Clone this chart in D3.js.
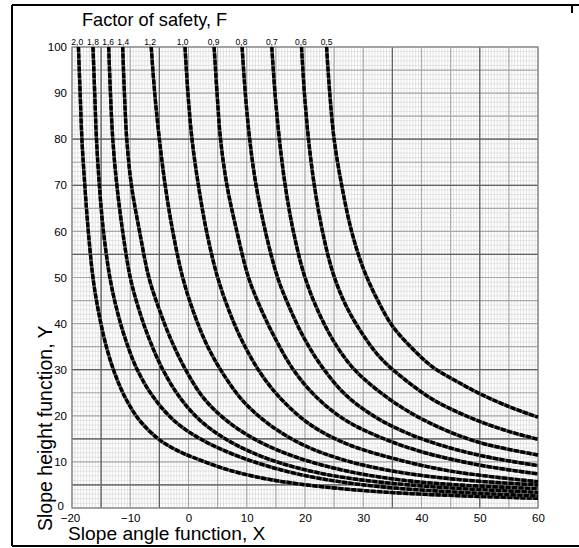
<!DOCTYPE html>
<html><head><meta charset="utf-8">
<script src="https://cdn.jsdelivr.net/npm/d3@7/dist/d3.min.js"></script>
<style>body{margin:0;background:#fff}svg{display:block}</style>
</head><body>
<svg id="c" width="579" height="548"></svg>
<script>
const xTicks=[-20,-10,0,10,20,30,40,50,60];
const yTicks=[0,10,20,30,40,50,60,70,80,90,100];
const fLabels=["2,0","1,8","1,6","1,4","1,2","1,0","0,9","0,8","0,7","0,6","0,5"];
const fLabelX=[-19.1,-16.4,-13.8,-11.2,-6.6,-1.0,4.3,9.1,14.3,19.3,23.7];
const c05=[[23.7,100],[24.25,90],[25,80],[26.3,70],[28,60],[30,52],[32.5,45],[35,39.5],[38.5,34.5],[42,30.5],[46,27.5],[50,24.8],[55,22],[60,19.7]];
const c06=[[19.4,100],[19.9,90],[20.6,80],[21.6,70],[23,60],[24.8,51],[27,44],[30,37.5],[33,32.5],[37,28],[42,23.5],[48,19.8],[54,17],[60,14.9]];
const c07=[[14.3,100],[14.85,90],[15.6,80],[16.6,70],[18,60],[20,50],[22.5,42],[25.5,35],[28.5,30],[32,26],[37,21.5],[43,17.5],[50,14.2],[60,11.5]];
const c08=[[9.2,100],[9.75,90],[10.5,80],[11.6,70],[13.2,60],[15.3,50],[17.5,43],[20,36.5],[23,30.5],[27,24.5],[32,19.8],[38,16],[45,13],[52,10.9],[60,9.2]];
const c09=[[4.4,100],[4.9,90],[5.5,80],[6.6,70],[8.3,60],[10.3,50],[12.5,43],[15,36.5],[18,30],[22,24],[27,19],[33,15.3],[40,12.2],[50,9.3],[60,7.4]];
const c10=[[-0.6,100],[-0.1,90],[0.6,80],[1.7,70],[3.1,60],[5,50],[7.2,42],[9.5,35.5],[12.5,29],[16,23.5],[21,18],[27,14],[35,10.8],[45,8],[60,5.7]];
const c12=[[-6.4,100],[-5.8,90],[-5,80],[-4,70],[-2.7,60],[-1,50],[1,42],[3.3,35],[6,29],[9.5,23],[14,18],[20,13.5],[27,10.3],[36,7.8],[47,6.1],[60,5.0]];
const c14=[[-11.3,100],[-11,90],[-10.6,80],[-9.8,70],[-8.4,60],[-6.8,50],[-5,43],[-3,36.5],[-0.5,30],[2.5,24],[6.5,19],[12,14.5],[19,10.8],[28,7.8],[40,5.6],[60,4.2]];
const c16=[[-13.7,100],[-13.4,90],[-13,80],[-12.3,70],[-11.3,60],[-10,50],[-8.5,43],[-6.7,36.5],[-4.4,30],[-1.5,24],[2,19],[7,14.5],[14,10.5],[24,7.2],[38,5],[60,3.4]];
const c18=[[-16.4,100],[-16.1,90],[-15.8,80],[-15.3,70],[-14.6,60],[-13.5,50],[-12.3,43],[-10.8,36.5],[-8.8,30],[-6,24],[-2.5,19],[2,15],[9,11],[19,7.3],[33,4.6],[60,2.6]];
const c20=[[-18.9,100],[-18.6,90],[-18.3,80],[-17.8,70],[-17.2,60],[-16.3,49],[-15.2,41],[-14,34.5],[-12.6,29],[-10.8,23.8],[-8.4,19],[-5,14.8],[-1.5,12.2],[2,10.4],[7,8.2],[13,6.4],[19,5.2],[27,4.1],[37,3.2],[48,2.6],[60,2.1]];
const curves=[c20,c18,c16,c14,c12,c10,c09,c08,c07,c06,c05];

const svg=d3.select("#c");
const L=72,R=538,T=47,B=508;
const x=d3.scaleLinear().domain([-20,60]).range([L,R]);
const y=d3.scaleLinear().domain([0,100]).range([B,T]);
const FF="Arial, 'Liberation Sans', sans-serif";

const fr=svg.append("g").attr("stroke","#000").attr("stroke-width",2);
fr.append("line").attr("x1",12).attr("x2",579).attr("y1",5).attr("y2",5);
fr.append("line").attr("x1",12).attr("x2",579).attr("y1",546).attr("y2",546);
fr.append("line").attr("x1",12).attr("x2",12).attr("y1",5).attr("y2",546);
fr.append("line").attr("x1",572).attr("x2",572).attr("y1",5).attr("y2",13);

const g=svg.append("g");
g.selectAll("line.mx").data(d3.range(-20,60.01,0.5)).join("line")
  .attr("x1",d=>x(d)).attr("x2",d=>x(d)).attr("y1",T).attr("y2",B)
  .attr("stroke","#dcdcdc").attr("stroke-width",0.8);
g.selectAll("line.my").data(d3.range(0,100.01,1)).join("line")
  .attr("y1",d=>y(d)).attr("y2",d=>y(d)).attr("x1",L).attr("x2",R)
  .attr("stroke","#dcdcdc").attr("stroke-width",0.8);
g.selectAll("line.Mx").data(d3.range(-20,60.01,5)).join("line")
  .attr("x1",d=>x(d)).attr("x2",d=>x(d)).attr("y1",T).attr("y2",B)
  .attr("stroke","#a8a8a8").attr("stroke-width",1.2);
g.selectAll("line.My").data(d3.range(0,100.01,5)).join("line")
  .attr("y1",d=>y(d)).attr("y2",d=>y(d)).attr("x1",L).attr("x2",R)
  .attr("stroke","#a8a8a8").attr("stroke-width",1.2);
g.selectAll("line.Dx").data([-15,-5,35,50]).join("line")
  .attr("x1",d=>x(d)).attr("x2",d=>x(d)).attr("y1",T).attr("y2",B)
  .attr("stroke","#606060").attr("stroke-width",1.2);
g.selectAll("line.Dy").data([5,15,30,55,70,80]).join("line")
  .attr("y1",d=>y(d)).attr("y2",d=>y(d)).attr("x1",L).attr("x2",R)
  .attr("stroke","#606060").attr("stroke-width",1.2);
g.append("rect").attr("x",L).attr("y",T).attr("width",R-L).attr("height",B-T)
  .attr("fill","none").attr("stroke","#888").attr("stroke-width",1.2);

const line=d3.line().x(d=>x(d[0])).y(d=>y(d[1])).curve(d3.curveCatmullRom.alpha(0.5));
const cg=svg.append("g");
curves.forEach(cv=>{
  const s=cv.slice().sort((a,b)=>b[1]-a[1]);
  cg.append("path").attr("d",line(s)).attr("fill","none").attr("stroke","#555").attr("stroke-width",3.4);
  cg.append("path").attr("d",line(s)).attr("fill","none").attr("stroke","#000").attr("stroke-width",3.4)
    .attr("stroke-dasharray","5,1.5");
});

const ax=d3.axisBottom(x).tickValues(xTicks).tickSize(0).tickPadding(6);
const axg=svg.append("g").attr("transform",`translate(0,${B})`).call(ax);
axg.select(".domain").remove();
axg.selectAll("text").attr("font-family",FF).attr("font-size",11.5).attr("fill","#000");
axg.selectAll(".tick").filter(d=>d===-20).select("text").attr("dx",-2);
const ay=d3.axisLeft(y).tickValues(yTicks).tickSize(0).tickPadding(5);
const ayg=svg.append("g").attr("transform",`translate(${L},0)`).call(ay);
ayg.select(".domain").remove();
ayg.selectAll("text").attr("font-family",FF).attr("font-size",11.5).attr("fill","#000");
ayg.selectAll(".tick").filter(d=>d===0).select("text").attr("dx",-3).attr("dy","0.1em");

svg.selectAll("text.fl").data(fLabels).join("text")
  .attr("x",(d,i)=>x(fLabelX[i])).attr("y",45).attr("text-anchor","middle")
  .attr("font-family",FF).attr("font-size",8.5).text(d=>d);

svg.append("text").attr("x",82).attr("y",26).attr("font-family",FF)
  .attr("font-size",18.2).text("Factor of safety, F");
svg.append("text").attr("x",68).attr("y",540).attr("font-family",FF)
  .attr("font-size",19.2).text("Slope angle function, X");
svg.append("text").attr("transform","translate(52,531) rotate(-90)").attr("font-family",FF)
  .attr("font-size",19.5).text("Slope height function, Y");
</script>
</body></html>
